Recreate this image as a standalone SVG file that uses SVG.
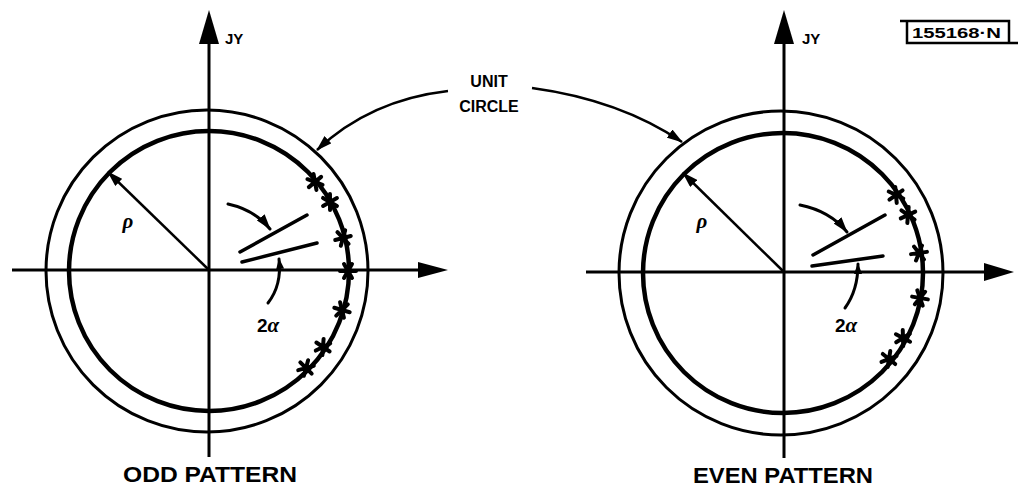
<svg xmlns="http://www.w3.org/2000/svg" width="1018" height="486" viewBox="0 0 1018 486">
<defs>
<style>
.ax{stroke:#000;stroke-width:3;fill:none}
.oc{stroke:#000;stroke-width:3;fill:none}
.ic{stroke:#000;stroke-width:4.5;fill:none}
.rho{stroke:#000;stroke-width:2.5;fill:none}
.ang{stroke:#000;stroke-width:3.5;fill:none;stroke-linecap:round}
.crv{stroke:#000;stroke-width:3;fill:none;stroke-linecap:round}
.call{stroke:#000;stroke-width:2.5;fill:none}
.hd{fill:#000}
.lbl{font-family:"Liberation Sans",Arial,sans-serif;font-weight:bold;fill:#000}
.gr{font-family:"Liberation Serif","DejaVu Serif",serif;font-style:italic;font-weight:bold;fill:#000}
</style>
<marker id="ah" markerUnits="userSpaceOnUse" markerWidth="16" markerHeight="10" refX="15" refY="5" orient="auto"><path d="M0,0 L16,5 L0,10 Z" fill="#000"/></marker>
<marker id="ahs" markerUnits="userSpaceOnUse" markerWidth="11" markerHeight="8" refX="10" refY="4" orient="auto"><path d="M0,0 L11,4 L0,8 Z" fill="#000"/></marker>
<path id="star" d="M-8,0H8M-4,-7L4,7M4,-7L-4,7" stroke="#000" stroke-width="4" stroke-linecap="round" fill="none"/>
</defs>

<g id="odd-pattern">
<circle class="oc" cx="207" cy="271" r="161"/>
<circle class="ic" cx="209" cy="271" r="140"/>
<line class="ax" x1="12" y1="270" x2="424" y2="270"/>
<polygon class="hd" points="448,270 418,262 418,278"/>
<line class="ax" x1="209" y1="457" x2="209" y2="40"/>
<polygon class="hd" points="209,10 199,44 219,44"/>
<line class="rho" x1="209" y1="270" x2="108" y2="172" marker-end="url(#ah)"/>
<line class="ang" x1="240" y1="252" x2="307" y2="215"/>
<line class="ang" x1="242" y1="262" x2="317" y2="243"/>
<path class="crv" d="M228,204 Q255,210 270,229" marker-end="url(#ah)"/>
<path class="crv" d="M268,303 Q282,285 279,259" marker-end="url(#ahs)"/>
<use href="#star" transform="translate(315,182) rotate(-40)"/>
<use href="#star" transform="translate(330,202) rotate(-30)"/>
<use href="#star" transform="translate(343,238) rotate(-14)"/>
<use href="#star" transform="translate(348,271) rotate(0)"/>
<use href="#star" transform="translate(342,310) rotate(16)"/>
<use href="#star" transform="translate(323,347) rotate(34)"/>
<use href="#star" transform="translate(306,368) rotate(45)"/>
<text class="gr" x="128" y="228" font-size="21" text-anchor="middle">ρ</text>
<text class="lbl" x="268" y="332" font-size="19" text-anchor="middle">2<tspan class="gr" font-size="21">α</tspan></text>
<text class="lbl" x="225" y="44" font-size="15">JY</text>
<text class="lbl" x="123" y="482" font-size="22" textLength="174" lengthAdjust="spacingAndGlyphs">ODD PATTERN</text>
</g>

<g id="even-pattern">
<circle class="oc" cx="781" cy="273" r="162"/>
<circle class="ic" cx="783" cy="273" r="140"/>
<line class="ax" x1="586" y1="272" x2="988" y2="272"/>
<polygon class="hd" points="1014,272 984,263 984,281"/>
<line class="ax" x1="784" y1="458" x2="784" y2="40"/>
<polygon class="hd" points="784,10 774,44 794,44"/>
<line class="rho" x1="784" y1="272" x2="683" y2="173" marker-end="url(#ah)"/>
<line class="ang" x1="813" y1="255" x2="885" y2="215"/>
<line class="ang" x1="812" y1="266" x2="883" y2="256"/>
<path class="crv" d="M800,205 Q830,211 847,232" marker-end="url(#ah)"/>
<path class="crv" d="M845,308 Q858,290 858,264" marker-end="url(#ahs)"/>
<use href="#star" transform="translate(896,195) rotate(-35)"/>
<use href="#star" transform="translate(908,215) rotate(-25)"/>
<use href="#star" transform="translate(919,253) rotate(-8)"/>
<use href="#star" transform="translate(920,298) rotate(10)"/>
<use href="#star" transform="translate(903,338) rotate(28)"/>
<use href="#star" transform="translate(889,359) rotate(39)"/>
<text class="gr" x="702" y="228" font-size="21" text-anchor="middle">ρ</text>
<text class="lbl" x="846" y="332" font-size="19" text-anchor="middle">2<tspan class="gr" font-size="21">α</tspan></text>
<text class="lbl" x="802" y="44" font-size="15">JY</text>
<text class="lbl" x="693" y="483" font-size="22" textLength="180" lengthAdjust="spacingAndGlyphs">EVEN PATTERN</text>
</g>

<g id="unit-circle-label">
<text class="lbl" x="489" y="87" font-size="16" text-anchor="middle">UNIT</text>
<text class="lbl" x="489" y="112" font-size="16" text-anchor="middle">CIRCLE</text>
</g>

<g id="connectors">
<path class="call" d="M448,91 Q370,100 317,150" marker-end="url(#ah)"/>
<path class="call" d="M532,88 Q620,100 682,142" marker-end="url(#ah)"/>
</g>

<g id="figure-id">
<path d="M900,21 H1009 V43 H1018 M907,21 V43 H1009" stroke="#000" stroke-width="2.5" fill="none"/>
<text class="lbl" x="912" y="38" font-size="15" textLength="89" lengthAdjust="spacingAndGlyphs">155168·N</text>
</g>
</svg>
